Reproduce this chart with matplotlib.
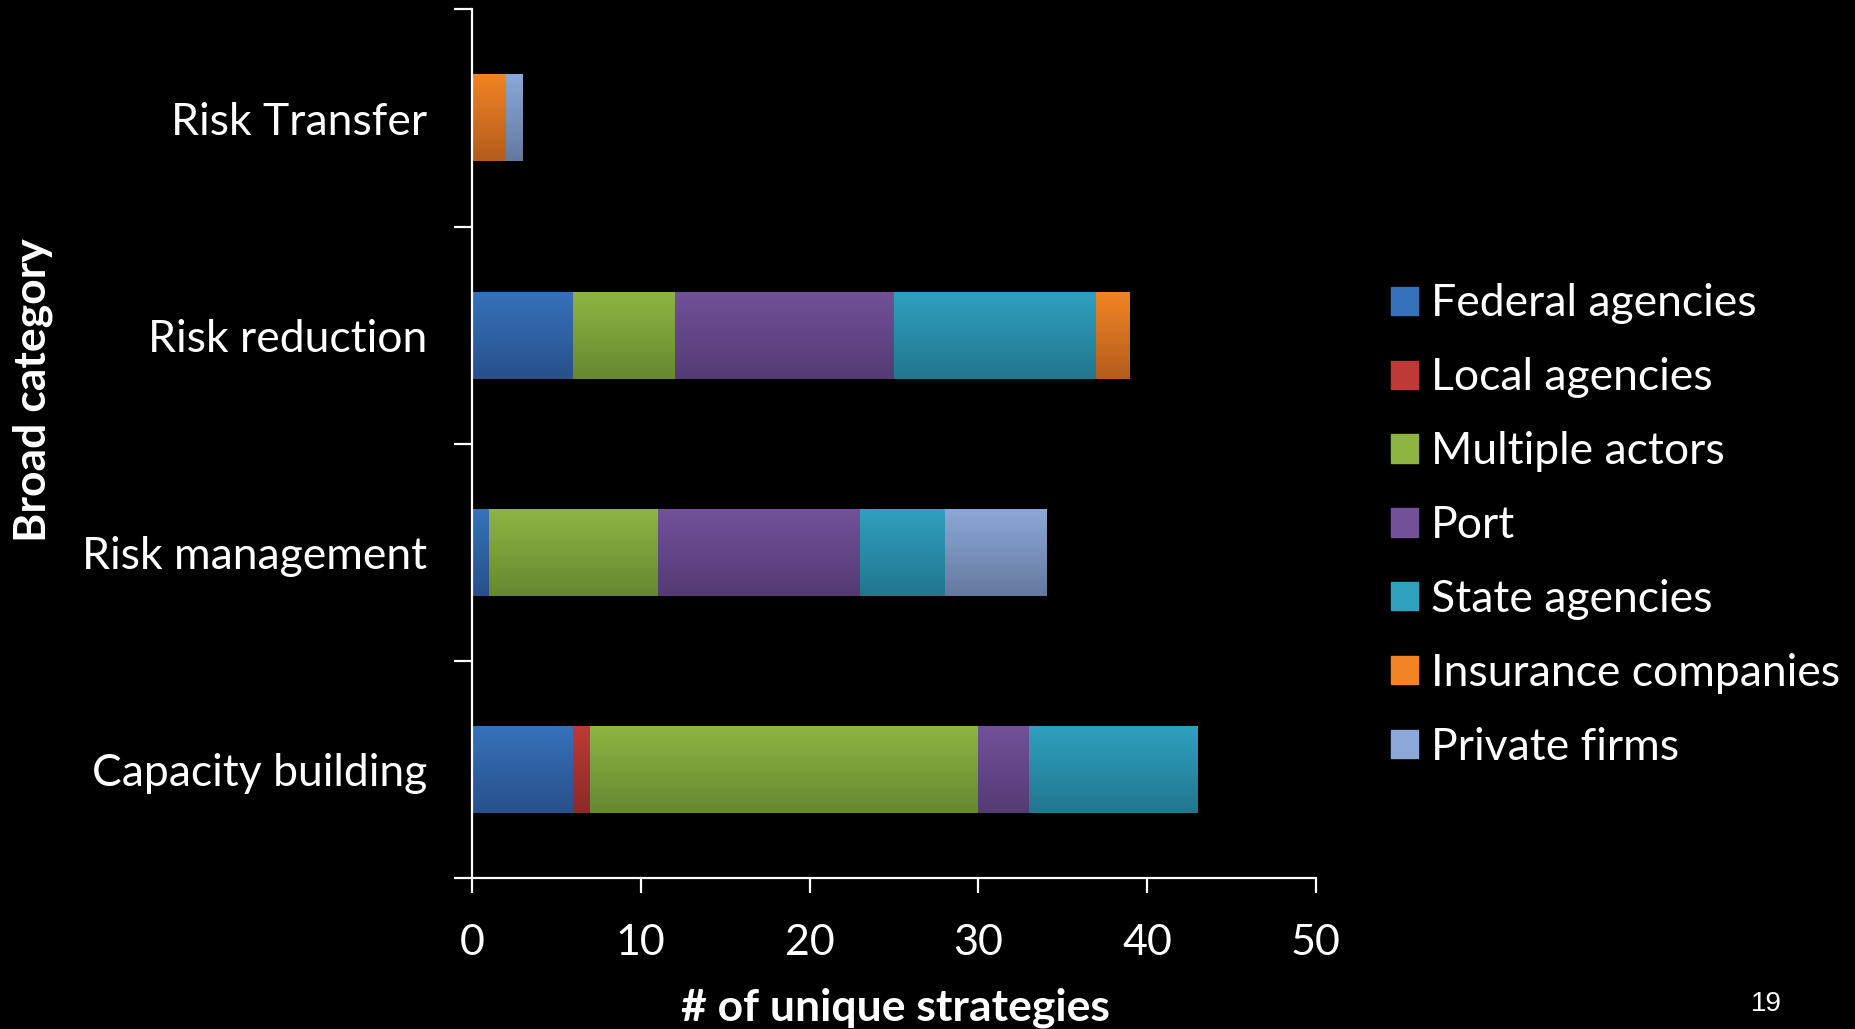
import numpy as np
import matplotlib
matplotlib.use("Agg")
import matplotlib.pyplot as plt
from matplotlib.colors import LinearSegmentedColormap

# Categories (bottom to top) and stacked series values
categories = ["Capacity building", "Risk management", "Risk reduction", "Risk Transfer"]
series_names = ["Federal agencies", "Local agencies", "Multiple actors", "Port",
                "State agencies", "Insurance companies", "Private firms"]
federal = [6, 1, 6, 0]
local = [1, 0, 0, 0]
multiple = [23, 10, 6, 0]
port = [3, 12, 13, 0]
state = [10, 5, 12, 0]
insurance = [0, 0, 2, 2]
private = [0, 6, 0, 1]
x_ticks = [0, 10, 20, 30, 40, 50]

# Top / bottom colours of each series' vertical gradient
grad_colors = [
    ("#3672BC", "#28508A"),
    ("#BE3A36", "#8C2A26"),
    ("#8EB542", "#678731"),
    ("#725199", "#543B74"),
    ("#2FA1BF", "#22768E"),
    ("#F18424", "#B45C1C"),
    ("#8CA8D8", "#64799F"),
]

plt.rcParams["font.family"] = ["Lato", "DejaVu Sans"]

fig = plt.figure(figsize=(18.56, 10.29), dpi=100, facecolor="black")
ax = fig.add_axes([0.2543, 0.1467, 0.709 - 0.2543, 0.9908 - 0.1467])
ax.set_facecolor("black")

values = [federal, local, multiple, port, state, insurance, private]
ypos = np.arange(len(categories))
left = np.zeros(len(categories))
bar_h = 0.4
grad = np.linspace(0, 1, 256).reshape(-1, 1)

handles = []
for name, vals, (c_top, c_bot) in zip(series_names, values, grad_colors):
    vals = np.asarray(vals, dtype=float)
    bars = ax.barh(ypos, vals, left=left, height=bar_h, color=c_top,
                   edgecolor="none", label=name, zorder=2)
    cmap = LinearSegmentedColormap.from_list(name, [c_bot, c_top])
    for rect in bars:
        w = rect.get_width()
        if w <= 0:
            continue
        x0, y0, h = rect.get_x(), rect.get_y(), rect.get_height()
        ax.imshow(grad, extent=[x0, x0 + w, y0, y0 + h], origin="lower",
                  cmap=cmap, aspect="auto", zorder=3, interpolation="bicubic")
    handles.append(bars)
    left += vals

ax.set_xlim(0, 50)
ax.set_ylim(-0.5, len(categories) - 0.5)

# Axes styling
for s in ["top", "right"]:
    ax.spines[s].set_visible(False)
for s in ["left", "bottom"]:
    ax.spines[s].set_color("white")
    ax.spines[s].set_linewidth(1.6)
    ax.spines[s].set_zorder(5)

ax.set_xticks(x_ticks)
ax.set_xticklabels([str(t) for t in x_ticks])
ax.tick_params(axis="x", colors="white", labelcolor="white", labelsize=31,
               length=11, width=1.6, direction="out", pad=22)

ax.set_yticks(ypos)
ax.set_yticklabels(categories)
ax.set_yticks(np.arange(-0.5, len(categories)), minor=True)
ax.tick_params(axis="y", which="major", length=0, labelcolor="white",
               labelsize=32, pad=32)
ax.tick_params(axis="y", which="minor", length=13, width=1.6,
               colors="white", direction="out")

# Axis titles
fig.text(0.4826, 0.0087, "# of unique strategies", color="white",
         fontsize=32, fontweight="bold", ha="center", va="baseline")
fig.text(0.0178, 0.621, "Broad category", color="white", fontsize=32,
         fontweight="bold", rotation=90, ha="center", va="center")

# Legend
leg = fig.legend(handles=handles, labels=series_names, loc="upper left",
                 bbox_to_anchor=(0.7495, 0.7245), frameon=False, fontsize=32,
                 labelcolor="white", handlelength=0.6, handleheight=0.6,
                 handletextpad=0.3, labelspacing=0.74, borderpad=0,
                 borderaxespad=0)
for hnd, (c_top, c_bot) in zip(leg.legend_handles, grad_colors):
    hnd.set_color(c_top)

# Slide number
fig.text(0.9515, 0.0114, "19", color="white", fontsize=20,
         family=["Liberation Sans", "DejaVu Sans"], ha="center", va="bottom")

fig.savefig("out.png", dpi=100, facecolor="black")
